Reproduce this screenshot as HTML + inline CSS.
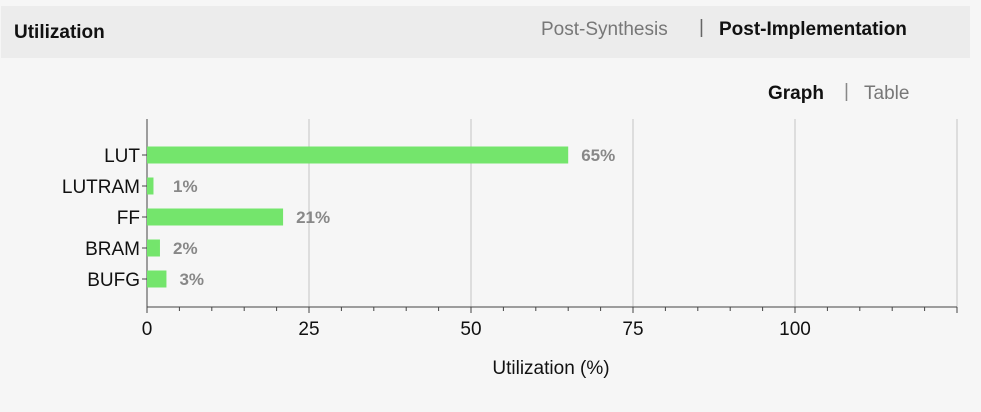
<!DOCTYPE html>
<html><head><meta charset="utf-8"><style>
body{margin:0;width:981px;height:412px;background:#f6f6f6;font-family:"Liberation Sans",sans-serif;overflow:hidden;position:relative}
.hdr{position:absolute;left:1px;top:6px;width:969px;height:52px;background:#ececec}
.t{position:absolute;white-space:nowrap}
</style></head><body>
<div class="hdr"></div>
<div class="t" style="left:14px;top:22px;font-size:19px;font-weight:bold;color:#111">Utilization</div>
<div class="t" style="left:541px;top:19px;font-size:19px;color:#777">Post-Synthesis</div>
<div class="t" style="left:699px;top:17px;font-size:19px;color:#666">|</div>
<div class="t" style="left:719px;top:19px;font-size:19px;font-weight:bold;color:#111">Post-Implementation</div>
<div class="t" style="left:768px;top:83px;font-size:19px;font-weight:bold;color:#111">Graph</div>
<div class="t" style="left:844px;top:81px;font-size:19px;color:#888">|</div>
<div class="t" style="left:864px;top:83px;font-size:19px;color:#777">Table</div>
<svg id="c" width="981" height="412" style="position:absolute;left:0;top:0"></svg>
<script>
const categories=["LUT","LUTRAM","FF","BRAM","BUFG"];
const values=[65,1,21,2,3];
const valueLabels=["65%","1%","21%","2%","3%"];
const ticks=[0,25,50,75,100];
const x0=147,xScale=6.48,plotTop=119,axisY=307;
const x=v=>x0+v*xScale;
const y=i=>155+i*31;
const s=document.getElementById('c');
const NS="http://www.w3.org/2000/svg";
function mk(t,a){const e=document.createElementNS(NS,t);for(const k in a)e.setAttribute(k,a[k]);s.appendChild(e);return e;}
for(const t of ticks.concat([125])){if(t===0)continue;
const g=mk('line',{x1:x(t),x2:x(t),y1:plotTop,y2:axisY,stroke:'#c4c4c4','stroke-width':1});

}
for(let t=0;t<=125;t+=5){const m=mk('line',{x1:x(t),x2:x(t),y1:axisY,y2:axisY+(t%25===0?6:4),stroke:'#444'});

}
const ya=mk('line',{x1:x0,x2:x0,y1:plotTop,y2:axisY,stroke:'#444'});


const xa=mk('line',{x1:x0,x2:x(125),y1:axisY,y2:axisY,stroke:'#444'});


categories.forEach((c,i)=>{
const b=mk('rect',{x:x0,y:y(i)-8.5,width:Math.max(0,x(values[i])-x0),height:17,fill:'#74e56c'});


const tk=mk('line',{x1:x0-5,x2:x0,y1:y(i),y2:y(i),stroke:'#444'});


const l=mk('text',{x:x0-7,y:y(i)+7,'text-anchor':'end','font-size':'19px',fill:'#111','font-family':'Liberation Sans'});l.textContent=c;


const v=mk('text',{x:Math.max(x(values[i])+13,x0+26),y:y(i)+6,'font-size':'17px','font-weight':'bold',fill:'#888','font-family':'Liberation Sans'});v.textContent=valueLabels[i];


});
ticks.forEach(t=>{const l=mk('text',{x:x(t),y:335,'text-anchor':'middle','font-size':'19px',fill:'#111','font-family':'Liberation Sans'});l.textContent=t;

});
const at=mk('text',{x:551,y:374,'text-anchor':'middle','font-size':'19px',fill:'#111','font-family':'Liberation Sans'});at.textContent='Utilization (%)';


</script>
</body></html>
